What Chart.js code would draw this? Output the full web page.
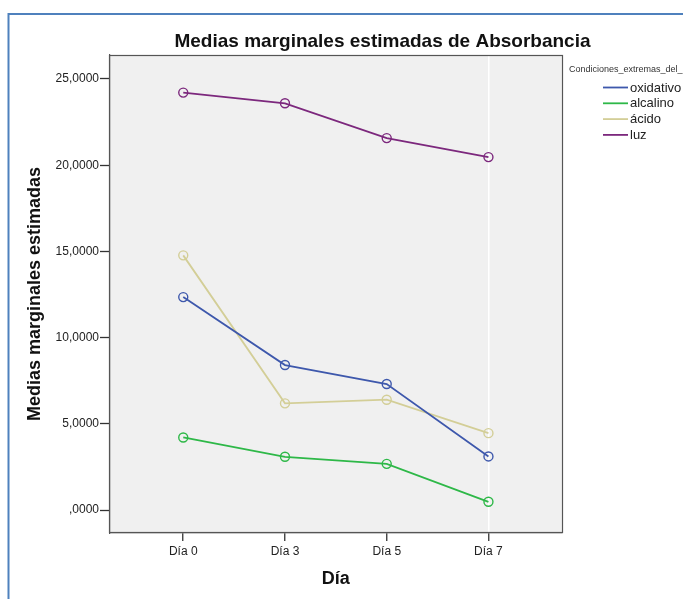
<!DOCTYPE html>
<html>
<head>
<meta charset="utf-8">
<script src="https://cdn.jsdelivr.net/npm/chart.js@4.4.1/dist/chart.umd.min.js"></script>
<style>
  html, body { margin: 0; padding: 0; background: #ffffff; }
  #wrap { width: 683px; height: 599px; position: relative; }
</style>
</head>
<body>
<div id="wrap"><canvas id="chart" width="683" height="599"></canvas></div>
<script>
// Estimated marginal means of absorbance per day and extreme condition
const days = ['Día 0', 'Día 3', 'Día 5', 'Día 7'];
const oxidativo = [12.35, 8.41, 7.31, 3.11];
const alcalino = [4.21, 3.09, 2.68, 0.48];
const acido = [14.77, 6.19, 6.40, 4.46];
const luz = [24.21, 23.59, 21.57, 20.47];
const seriesNames = ['oxidativo', 'alcalino', 'ácido', 'luz'];
const seriesColors = ['#3E58AC', '#2EB848', '#D3CE97', '#7C287D'];
const yTickValues = [0, 5, 10, 15, 20, 25];
const yTickLabels = [',0000', '5,0000', '10,0000', '15,0000', '20,0000', '25,0000'];

const chartTitle = 'Medias marginales estimadas de Absorbancia';
const yTitle = 'Medias marginales estimadas';
const xTitle = 'Día';
const legendTitle = 'Condiciones_extremas_del_';

const FONT = "'Liberation Sans', Arial, sans-serif";

const seriesValues = [oxidativo, alcalino, acido, luz];
const datasets = seriesValues.map((vals, i) => ({
  label: seriesNames[i],
  data: vals.map((v, j) => ({ x: j, y: v })),
  borderColor: seriesColors[i],
  backgroundColor: seriesColors[i],
  borderWidth: 1.8,
  tension: 0,
  pointRadius: 4.5,
  pointBorderWidth: 1.4,
  pointBorderColor: seriesColors[i],
  pointBackgroundColor: 'rgba(0,0,0,0)',
  pointHoverRadius: 4.5
}));

// Page frame, plot background, plot border, title and legend
const decorations = {
  id: 'decorations',
  beforeDraw(chart) {
    const { ctx, chartArea: a } = chart;
    ctx.save();
    ctx.fillStyle = '#ffffff';
    ctx.fillRect(0, 0, chart.width, chart.height);
    ctx.strokeStyle = '#4F81BD';
    ctx.lineWidth = 2;
    ctx.beginPath();
    ctx.moveTo(8.5, chart.height);
    ctx.lineTo(8.5, 14);
    ctx.lineTo(chart.width, 14);
    ctx.stroke();
    ctx.fillStyle = '#F0F0F0';
    ctx.fillRect(a.left, a.top, a.right - a.left, a.bottom - a.top);
    ctx.restore();
  },
  afterDraw(chart) {
    const { ctx, chartArea: a } = chart;
    ctx.save();
    ctx.strokeStyle = '#555555';
    ctx.lineWidth = 1.2;
    ctx.strokeRect(Math.round(a.left) - 0.5, Math.round(a.top) + 0.5,
      Math.round(a.right - a.left) + 1, Math.round(a.bottom - a.top) - 1);

    ctx.fillStyle = '#111111';
    ctx.font = 'bold 19px ' + FONT;
    ctx.textAlign = 'center';
    ctx.textBaseline = 'middle';
    ctx.fillText(chartTitle, 382.5, 42);

    ctx.textAlign = 'left';
    ctx.fillStyle = '#333333';
    ctx.font = '9px ' + FONT;
    ctx.fillText(legendTitle, 569, 70);

    ctx.font = '13px ' + FONT;
    chart.data.datasets.forEach((ds, i) => {
      const y = 88 + i * 15.8;
      ctx.strokeStyle = ds.borderColor;
      ctx.lineWidth = 1.8;
      ctx.beginPath();
      ctx.moveTo(603, y - 0.5);
      ctx.lineTo(628, y - 0.5);
      ctx.stroke();
      ctx.fillStyle = '#222222';
      ctx.fillText(ds.label, 630, y);
    });
    ctx.restore();
  }
};

new Chart(document.getElementById('chart'), {
  type: 'line',
  data: { datasets },
  options: {
    responsive: false,
    animation: false,
    devicePixelRatio: 1,
    layout: { padding: { top: 55, right: 121.3, bottom: 0, left: 0 } },
    plugins: {
      legend: { display: false },
      title: { display: false },
      tooltip: { enabled: false }
    },
    scales: {
      x: {
        type: 'linear',
        min: -0.72,
        max: 3.72,
        afterBuildTicks: s => { s.ticks = days.map((_, i) => ({ value: i })); },
        afterFit: s => { s.height = 66; },
        ticks: {
          callback: v => days[Math.round(v)],
          font: { family: FONT, size: 12 },
          color: '#222222',
          padding: 3,
          maxRotation: 0,
          autoSkip: false
        },
        grid: {
          drawOnChartArea: true,
          color: c => (c.tick && c.tick.value === 3 ? '#ffffff' : 'rgba(0,0,0,0)'),
          lineWidth: 1.5,
          tickColor: '#333333',
          tickWidth: 1.3,
          tickLength: 8
        },
        border: { display: true, color: '#555555', width: 1.2 },
        title: {
          display: true,
          text: xTitle,
          font: { family: FONT, size: 18, weight: 'bold' },
          color: '#111111',
          padding: { top: 0, bottom: 9.2 }
        }
      },
      y: {
        type: 'linear',
        min: -1.33,
        max: 26.39,
        afterBuildTicks: s => { s.ticks = yTickValues.map(v => ({ value: v })); },
        afterFit: s => { s.width = 110; },
        ticks: {
          callback: (v, i) => yTickLabels[i],
          font: { family: FONT, size: 12 },
          color: '#222222',
          padding: 1
        },
        grid: {
          drawOnChartArea: false,
          tickColor: '#333333',
          tickWidth: 1.3,
          tickLength: 10
        },
        border: { display: true, color: '#555555', width: 1.2 },
        title: {
          display: true,
          text: yTitle,
          font: { family: FONT, size: 18, weight: 'bold' },
          color: '#111111',
          padding: { top: 24.2, bottom: 0 }
        }
      }
    }
  },
  plugins: [decorations]
});
</script>
</body>
</html>
